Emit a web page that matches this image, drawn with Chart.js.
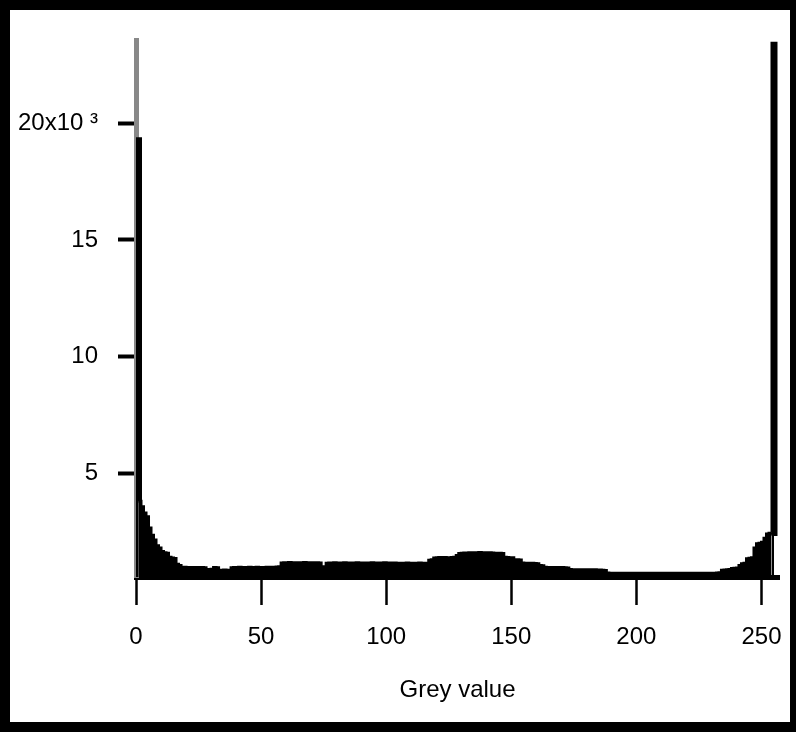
<!DOCTYPE html>
<html lang="en">
<head>
  <meta charset="UTF-8" />
  <title>Grey value histogram</title>
  <script src="https://cdn.jsdelivr.net/npm/chart.js"></script>
  <style>
    body {
      margin: 0;
      background: #fff;
    }
    .frame {
      position: relative;
      width: 796px;
      height: 732px;
    }
    .frame canvas {
      position: absolute;
      left: 0;
      top: 0;
    }
    .border {
      position: absolute;
      inset: 0;
      border-style: solid;
      border-color: #000;
      border-width: 10px 6px 10px 10px;
      pointer-events: none;
    }
  </style>
</head>
<body>

<div class="frame">
  <canvas id="histChart" width="796" height="732"></canvas>
  <div class="border"></div>
</div>

<script>
  // pixel counts per grey level, 0..255
  const counts = [
    19250, 3800, 3570, 3300, 3140, 2660, 2350, 2140, 1900, 1800, 1650, 1600, 1570, 1400, 1370, 1350,
    1100, 1050, 980, 970, 960, 960, 950, 960, 950, 960, 960, 950, 880, 870, 890, 960,
    950, 850, 840, 860, 850, 850, 950, 960, 960, 970, 960, 950, 960, 970, 960, 960,
    970, 960, 950, 960, 970, 970, 960, 980, 990, 1000, 1160, 1170, 1170, 1180, 1160, 1170,
    1170, 1160, 1170, 1180, 1170, 1170, 1160, 1170, 1170, 1160, 980, 1000, 1150, 1160, 1160, 1170,
    1160, 1150, 1160, 1170, 1160, 1160, 1150, 1160, 1170, 1160, 1160, 1150, 1160, 1160, 1170, 1160,
    1150, 1160, 1160, 1170, 1160, 1150, 1160, 1160, 1150, 1080, 1150, 1150, 1160, 1150, 1140, 1150,
    1150, 1160, 1150, 1150, 1140, 1270, 1300, 1370, 1380, 1390, 1385, 1390, 1380, 1385, 1390, 1400,
    1480, 1560, 1580, 1590, 1590, 1600, 1600, 1590, 1600, 1610, 1600, 1600, 1590, 1600, 1590, 1580,
    1580, 1570, 1560, 1400, 1390, 1385, 1380, 1300, 1300, 1290, 1160, 1150, 1150, 1140, 1150, 1140,
    1130, 1050, 1040, 970, 960, 960, 950, 960, 960, 950, 960, 950, 940, 880, 870, 870,
    870, 860, 870, 870, 860, 870, 860, 870, 860, 860, 850, 840, 730, 720, 720, 720,
    720, 710, 720, 720, 710, 720, 720, 720, 710, 720, 720, 710, 720, 720, 720, 710,
    720, 720, 710, 720, 720, 710, 720, 720, 720, 710, 720, 720, 710, 720, 720, 720,
    710, 720, 720, 720, 710, 720, 720, 720, 730, 740, 850, 860, 870, 880, 920, 930,
    940, 1050, 1130, 1150, 1340, 1360, 1380, 1800, 1980, 2000, 2050, 2215, 2400, 2430, 2460, 23500
  ];
  const greyLevels = counts.map((_, i) => i);

  const xTicks = [0, 50, 100, 150, 200, 250];
  const yTicks = [5000, 10000, 15000, 20000];

  const labelFont = { family: "'Liberation Sans', Arial, sans-serif", size: 24 };
  const last = counts.length - 1;

  new Chart(document.getElementById('histChart'), {
    type: 'line',
    data: {
      datasets: [{
        data: greyLevels.map((g, i) => ({ x: g, y: counts[i] })),
        // each grey level holds its count from x to x+1
        stepped: 'before',
        fill: 'start',
        backgroundColor: '#000',
        borderColor: '#000',
        borderWidth: 7,
        // heavy pen on the two end spikes, thin elsewhere
        segment: {
          borderWidth: ctx => (ctx.p0DataIndex === 0 || ctx.p1DataIndex === last) ? 7 : 3
        },
        pointRadius: 0
      }]
    },
    options: {
      responsive: false,
      animation: false,
      layout: { padding: { top: 40, right: 17, left: 0, bottom: 0 } },
      plugins: {
        legend: { display: false },
        tooltip: { enabled: false }
      },
      scales: {
        x: {
          type: 'linear',
          min: 0,
          max: 257,
          afterBuildTicks: s => { s.ticks = xTicks.map(v => ({ value: v })); },
          afterFit: s => { s.height = 155; s.paddingLeft = 0; s.paddingRight = 0; },
          ticks: { color: '#000', font: labelFont, padding: 18, maxRotation: 0 },
          grid: { drawOnChartArea: false, tickLength: 28, tickWidth: 2.5, tickColor: '#000' },
          border: { display: true, color: '#000', width: 5 },
          title: {
            display: true,
            text: 'Grey value',
            color: '#000',
            font: labelFont,
            padding: { top: 0, bottom: 27 }
          }
        },
        y: {
          min: 557,
          max: 23571,
          afterBuildTicks: s => { s.ticks = yTicks.map(v => ({ value: v })); },
          afterFit: s => { s.width = 136; s.paddingTop = 0; s.paddingBottom = 0; },
          ticks: {
            color: '#000',
            font: labelFont,
            padding: 20,
            callback: v => v === 20000 ? '20x10 \u00b3' : String(v / 1000)
          },
          grid: { drawOnChartArea: false, tickLength: 18, tickWidth: 4, tickColor: '#000' },
          border: { display: true, color: '#888', width: 5 }
        }
      }
    }
  });
</script>

</body>
</html>
